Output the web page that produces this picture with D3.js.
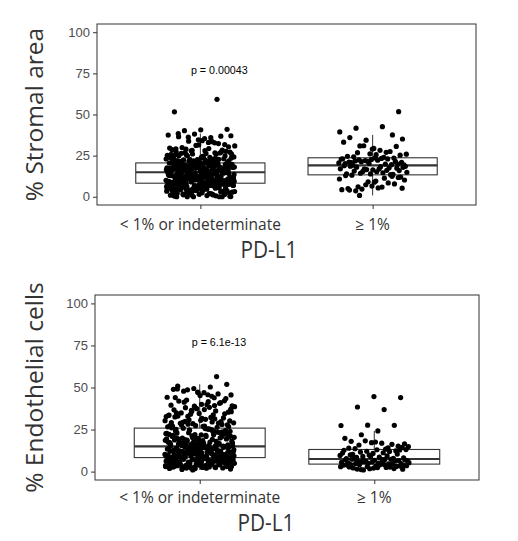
<!DOCTYPE html>
<html>
<head>
<meta charset="utf-8">
<script src="https://cdn.jsdelivr.net/npm/d3@7"></script>
<style>
  body { margin: 0; background: #fff; }
  svg { display: block; }
</style>
</head>
<body>
<div id="chart"></div>
<script>
// Categories and labels
const categories = ["< 1% or indeterminate", "≥ 1%"];
const yTicks = [0, 25, 50, 75, 100];
const yTitles = ["% Stromal area", "% Endothelial cells"];
const xTitle = "PD-L1";
const pLabels = ["p = 0.00043", "p = 6.1e-13"];

// % Stromal area, PD-L1 < 1% or indeterminate
const stromalLow = [
  0.0, 0.3, 5.6, 2.1, 7.4, 0.0, 4.8, 6.9, 1.2, 3.5,
  7.9, 6.2, 0.6, 4.1, 2.8, 5.3, 7.1, 0.0, 3.9, 6.6,
  1.7, 5.0, 7.7, 2.4, 4.5, 6.0, 0.9, 3.2, 7.5, 5.8,
  1.4, 6.4, 4.3, 8.0, 2.6, 0.1, 5.5, 7.2, 3.0, 6.8,
  4.9, 1.9, 7.8, 3.7, 5.1, 0.4, 6.1, 2.2, 7.0, 4.6,
  8.1, 3.3, 5.9, 1.0, 6.7, 2.9, 7.6, 4.0, 0.0, 5.4,
  3.6, 6.3, 2.0, 7.3, 4.4, 1.5, 6.5, 5.2, 3.1, 7.9,
  8.3, 12.6, 10.1, 14.2, 9.4, 13.1, 11.5, 8.8, 14.7, 10.9,
  12.0, 9.0, 13.6, 11.2, 8.5, 14.4, 10.4, 12.9, 9.7, 13.9,
  11.8, 8.6, 14.0, 10.7, 12.3, 9.2, 13.4, 11.0, 14.8, 9.9,
  12.7, 8.9, 13.0, 10.2, 14.5, 11.6, 9.5, 12.2, 13.7, 10.5,
  8.4, 14.1, 11.3, 12.8, 9.1, 13.3, 10.0, 14.6, 11.9, 9.8,
  12.4, 8.7, 13.8, 10.8, 11.4, 14.3, 9.3, 12.5, 10.3, 13.5,
  11.1, 9.6, 14.8, 12.1, 8.3, 13.2, 10.6, 11.7, 9.4, 12.9,
  15.0, 18.3, 16.7, 20.1, 17.2, 19.4, 15.8, 18.9, 16.1, 20.4,
  17.6, 15.3, 19.0, 16.4, 18.0, 20.2, 15.6, 17.9, 19.7, 16.9,
  18.5, 15.1, 17.3, 20.5, 16.2, 19.2, 15.9, 18.7, 17.0, 19.9,
  16.5, 18.1, 15.4, 20.0, 17.7, 19.5, 16.0, 18.4, 15.7, 19.1,
  17.4, 20.3, 16.3, 18.8, 15.2, 19.6, 17.1, 18.2, 16.8, 20.0,
  15.5, 19.3, 17.8, 16.6, 18.6, 15.0, 19.8, 17.5, 20.4, 16.1,
  18.0, 15.9, 19.0, 17.2, 20.2, 16.4, 18.9, 15.3, 19.5, 17.7,
  20.8, 23.4, 21.7, 26.1, 22.3, 25.0, 27.4, 21.2, 24.6, 22.9,
  26.8, 21.0, 23.9, 25.5, 22.1, 27.9, 24.2, 21.5, 26.4, 23.1,
  22.6, 25.8, 21.3, 24.9, 27.1, 23.6, 22.0, 26.6, 21.8, 25.2,
  24.0, 22.4, 27.6, 21.1, 23.3, 25.9, 22.7, 24.4, 26.3, 21.6,
  28.4, 31.2, 29.6, 33.5, 28.9, 30.4, 34.1, 29.1, 32.3, 28.2,
  30.9, 33.0, 29.9, 31.7, 34.6, 28.6, 32.8, 36.2, 37.1, 35.4,
  38.4, 36.8, 38.1, 37.5, 35.9, 40.2, 41.0, 40.7, 51.6, 59.2,
  2.5, 6.9, 0.7, 4.2, 7.6, 3.8, 5.7, 1.1, 6.4, 2.3,
  7.0, 4.7, 0.0, 5.0, 3.4, 7.8, 1.6, 6.1, 4.9, 2.7,
  10.5, 13.6, 9.1, 12.2, 14.5, 8.6, 11.4, 13.0, 9.8, 12.7,
  10.9, 14.2, 8.9, 11.8, 13.3, 9.5, 12.5, 10.1, 14.7, 11.0,
  17.5, 19.1, 15.7, 18.4, 20.3, 16.3, 17.9, 19.6, 15.2, 18.8,
  16.9, 20.1, 15.5, 17.1, 19.4, 16.6, 18.2, 20.5, 15.9, 17.3,
  21.4, 23.8, 22.2, 25.6, 21.9, 24.5, 27.2, 22.8, 26.0, 23.0,
  29.3, 21.7, 24.8, 31.5, 22.5, 26.7, 33.8, 23.5, 28.0, 36.5
];

// % Stromal area, PD-L1 >= 1%
const stromalHigh = [
  0.8, 5.2, 9.6, 4.1, 12.4, 7.3, 10.8, 5.9, 3.6, 11.7,
  6.5, 12.9, 8.4, 4.7, 10.2, 5.4, 13.1, 7.8, 9.1, 4.3,
  11.3, 6.1, 12.0, 8.9, 5.0,
  13.4, 16.8, 14.9, 18.3, 15.6, 17.4, 13.9, 18.9, 16.1, 14.3,
  17.9, 15.2, 18.6, 13.6, 16.5, 17.0, 14.6, 18.0, 15.9, 16.3,
  14.0, 17.6, 15.4, 18.5, 16.9,
  19.2, 21.5, 20.3, 23.1, 19.8, 22.4, 20.9, 23.6, 21.1, 19.5,
  22.0, 20.6, 23.3, 21.8, 19.9, 22.7, 20.1, 23.0, 21.3, 19.4,
  22.2, 20.7, 23.5, 21.6, 22.9,
  24.0, 26.8, 25.3, 29.4, 24.6, 27.5, 31.0, 25.9, 28.2, 24.3,
  30.6, 26.1, 33.2, 27.0, 30.9, 35.1, 25.6, 36.0, 37.6, 34.4,
  39.4, 42.6, 41.7, 51.7, 29.0
];

// % Endothelial cells, PD-L1 < 1% or indeterminate
const endoLow = [
  2.1, 5.7, 3.4, 7.6, 4.2, 1.0, 6.3, 2.8, 7.9, 5.1,
  3.9, 6.8, 2.4, 4.7, 8.1, 3.1, 5.5, 7.2, 1.8, 6.0,
  4.4, 2.6, 7.4, 5.8, 3.3, 6.6, 2.0, 4.9, 7.0, 3.7,
  5.3, 8.0, 2.9, 6.2, 4.0, 1.5, 7.7, 3.5, 5.9, 2.3,
  6.9, 4.5, 7.3, 3.0, 5.0, 2.7, 6.4, 4.8, 7.8, 3.8,
  5.6, 2.2, 6.7, 4.3, 7.1, 3.2, 5.2, 2.5, 6.1, 4.6,
  7.5, 3.6, 5.4, 1.3, 6.5, 4.1, 7.9, 2.8, 5.7, 3.0,
  8.4, 12.3, 10.6, 14.1, 9.2, 13.5, 11.0, 8.8, 14.7, 10.1,
  12.8, 9.5, 13.0, 11.6, 8.6, 14.4, 10.3, 12.1, 9.9, 13.8,
  11.3, 8.9, 14.0, 10.8, 12.6, 9.1, 13.3, 11.9, 14.9, 9.7,
  12.4, 8.5, 13.6, 10.0, 14.5, 11.4, 9.4, 12.0, 13.9, 10.5,
  8.7, 14.2, 11.1, 12.9, 9.0, 13.2, 10.2, 14.8, 11.7, 9.8,
  12.5, 8.4, 13.7, 10.9, 11.5, 14.3, 9.3, 12.2, 10.4, 13.4,
  11.2, 9.6, 14.6, 12.7, 8.6, 13.1, 10.7, 11.8, 9.2, 12.3,
  15.1, 19.3, 17.2, 23.8, 16.0, 21.4, 18.5, 25.1, 16.7, 20.2,
  22.6, 15.6, 19.9, 24.4, 17.8, 21.0, 15.3, 23.1, 18.1, 25.6,
  16.4, 20.7, 22.0, 17.5, 24.9, 19.0, 15.9, 21.8, 18.8, 23.4,
  16.2, 20.4, 25.3, 17.0, 22.3, 19.6, 15.4, 24.1, 18.3, 21.2,
  16.9, 23.0, 20.0, 15.8, 22.8, 17.6, 25.8, 19.4, 16.5, 21.6,
  18.0, 24.6, 15.2, 20.9, 17.3, 23.6, 16.1, 22.1, 19.1, 15.7,
  20.5, 17.9, 24.2, 16.6, 21.3, 18.6, 25.4, 15.5, 22.5, 19.7,
  26.0, 31.4, 28.2, 35.6, 27.1, 33.0, 29.7, 38.9, 26.6, 32.2,
  41.3, 27.8, 30.5, 36.7, 26.3, 34.1, 29.0, 39.8, 28.7, 31.9,
  37.4, 27.4, 33.8, 42.5, 30.1, 26.9, 35.0, 40.6, 28.5, 32.7,
  38.2, 29.3, 43.4, 34.6, 27.0, 36.1, 30.8, 39.1, 31.1, 41.9,
  28.0, 37.9, 33.4, 44.8, 29.9, 35.3, 40.0, 32.5, 46.2, 36.4,
  38.6, 45.7, 34.9, 42.1, 47.3, 39.5, 43.9, 48.6, 37.0, 46.9,
  49.1, 41.0, 49.4, 44.2, 50.3, 47.8, 51.9, 45.2, 48.9, 56.5,
  3.3, 6.6, 2.0, 5.0, 7.4, 4.4, 1.9, 6.0, 3.7, 7.8,
  2.6, 5.6, 4.1, 7.0, 3.0, 6.3, 2.4, 5.3, 7.6, 4.8,
  9.6, 12.9, 11.2, 14.3, 8.7, 10.5, 13.5, 9.9, 12.0, 14.7,
  11.5, 8.9, 13.0, 10.8, 12.6, 9.4, 14.0, 11.8, 10.1, 13.8,
  16.3, 21.9, 18.7, 24.0, 15.8, 20.1, 23.3, 17.4, 19.5, 25.2,
  16.8, 22.4, 18.2, 20.8, 15.4, 24.7, 17.0, 21.5, 19.2, 23.0,
  27.3, 33.6, 29.5, 38.0, 26.8, 31.6, 44.0, 28.9, 35.8, 30.3,
  41.6, 27.7, 34.4, 47.0, 29.1, 39.3, 32.9, 45.6, 36.9, 50.8
];

// % Endothelial cells, PD-L1 >= 1%
const endoHigh = [
  1.2, 3.6, 2.4, 4.1, 1.8, 3.0, 2.9, 4.3, 1.5, 3.3,
  2.1, 3.9, 2.7, 1.0, 3.5, 4.0, 2.2, 3.1, 1.7, 3.8,
  2.5, 4.2, 1.4, 3.4, 2.8,
  4.5, 6.1, 5.3, 7.2, 4.8, 6.6, 5.7, 7.0, 4.6, 5.9,
  6.9, 5.1, 7.4, 6.3, 4.9, 5.5, 7.1, 6.0, 4.7, 6.7,
  5.2, 7.3, 5.8, 6.4, 5.0,
  7.6, 10.4, 8.9, 12.7, 9.3, 11.6, 8.1, 13.0, 10.0, 7.9,
  12.1, 9.6, 11.2, 8.4, 12.9, 10.8, 7.7, 11.9, 9.0, 13.1,
  8.6, 10.2, 12.4, 9.8, 11.0,
  13.3, 15.8, 14.4, 17.6, 13.9, 16.2, 18.3, 14.9, 16.9, 13.6,
  15.1, 17.2, 19.8, 14.1, 21.9, 16.5, 24.2, 18.0, 27.5, 27.6,
  27.4, 36.9, 38.4, 44.0, 44.6
];

// Panel layout (pixels)
const panels = [
  { series: [stromalLow, stromalHigh], left: 97, right: 476, top: 24, bottom: 205,
    yTitle: yTitles[0], pLabel: pLabels[0], tickY: 229.5, titleY: 258, titleX: 269 },
  { series: [endoLow, endoHigh], left: 95, right: 479, top: 295, bottom: 480,
    yTitle: yTitles[1], pLabel: pLabels[1], tickY: 503, titleY: 531, titleX: 266 }
];

const svg = d3.select("#chart").append("svg")
  .attr("width", 518)
  .attr("height", 541);

// box statistics like ggplot (type-7 quantiles, 1.5 IQR whiskers)
function boxStats(values) {
  const s = values.slice().sort(d3.ascending);
  const q1 = d3.quantile(s, 0.25), med = d3.quantile(s, 0.5), q3 = d3.quantile(s, 0.75);
  const iqr = q3 - q1;
  const lo = d3.min(s.filter(v => v >= q1 - 1.5 * iqr));
  const hi = d3.max(s.filter(v => v <= q3 + 1.5 * iqr));
  return { q1, med, q3, lo, hi };
}

// deterministic spread for the jitter
function jitter(i) {
  const f = (i * 0.6180339887 + 0.31) % 1;
  return (f - 0.5) * 2 * 0.2;
}

panels.forEach(p => {
  const g = svg.append("g");

  const x = d3.scaleLinear().domain([0.4, 2.6]).range([p.left, p.right]);
  const y = d3.scaleLinear().domain([-5, 105]).range([p.bottom, p.top]);

  // boxes
  p.series.forEach((vals, k) => {
    const st = boxStats(vals);
    const cx = x(k + 1);
    const hw = x(k + 1 + 0.375) - cx;
    const box = g.append("g").attr("stroke", "#333");
    box.append("line")
      .attr("x1", cx).attr("x2", cx)
      .attr("y1", y(st.q3)).attr("y2", y(st.hi))
      .attr("stroke-width", 1);
    box.append("line")
      .attr("x1", cx).attr("x2", cx)
      .attr("y1", y(st.q1)).attr("y2", y(st.lo))
      .attr("stroke-width", 1);
    box.append("rect")
      .attr("x", cx - hw).attr("width", 2 * hw)
      .attr("y", y(st.q3)).attr("height", y(st.q1) - y(st.q3))
      .attr("fill", "#fff")
      .attr("stroke-width", 1.1);
    box.append("line")
      .attr("x1", cx - hw).attr("x2", cx + hw)
      .attr("y1", y(st.med)).attr("y2", y(st.med))
      .attr("stroke-width", 2.2);
  });

  // jittered points
  p.series.forEach((vals, k) => {
    g.append("g").selectAll("circle")
      .data(vals)
      .enter()
      .append("circle")
      .attr("cx", (d, i) => x(k + 1 + jitter(i)))
      .attr("cy", d => y(d))
      .attr("r", 2.6)
      .attr("fill", "black");
  });

  // panel border
  g.append("rect")
    .attr("x", p.left).attr("y", p.top)
    .attr("width", p.right - p.left).attr("height", p.bottom - p.top)
    .attr("fill", "none")
    .attr("stroke", "#333")
    .attr("stroke-width", 1);

  // y axis
  const yAxis = g.append("g")
    .attr("transform", `translate(${p.left},0)`)
    .call(d3.axisLeft(y).tickValues(yTicks).tickSize(4).tickPadding(3));
  yAxis.select(".domain").remove();
  yAxis.selectAll(".tick line").attr("stroke", "#333");
  yAxis.selectAll(".tick text")
    .attr("fill", "#4d4d4d")
    .style("font-family", "'Liberation Sans', Arial, sans-serif")
    .style("font-size", "13px");

  // x axis ticks
  const xAxis = g.append("g")
    .attr("transform", `translate(0,${p.bottom})`)
    .call(d3.axisBottom(x).tickValues([1, 2]).tickSize(4).tickFormat(() => ""));
  xAxis.select(".domain").remove();
  xAxis.selectAll(".tick line").attr("stroke", "#333");

  g.selectAll(".xlab")
    .data(categories)
    .enter()
    .append("text")
    .attr("x", (d, i) => x(i + 1))
    .attr("y", p.tickY)
    .attr("text-anchor", "middle")
    .attr("fill", "#333")
    .style("font-family", "'Open Sans', sans-serif")
    .style("font-size", "15.5px")
    .text(d => d);

  // axis titles
  g.append("text")
    .attr("x", p.titleX)
    .attr("y", p.titleY)
    .attr("text-anchor", "middle")
    .attr("fill", "#333")
    .attr("textLength", 57)
    .attr("lengthAdjust", "spacingAndGlyphs")
    .style("font-family", "'Open Sans', sans-serif")
    .style("font-size", "24px")
    .text(xTitle);

  g.append("text")
    .attr("transform", `translate(43,${(p.top + p.bottom) / 2}) rotate(-90)`)
    .attr("text-anchor", "middle")
    .attr("fill", "#333")
    .style("font-family", "'Open Sans', sans-serif")
    .style("font-size", "24.5px")
    .text(p.yTitle);

  // p value
  g.append("text")
    .attr("x", x(1.11))
    .attr("y", y(77))
    .attr("dy", "0.35em")
    .attr("text-anchor", "middle")
    .attr("fill", "black")
    .style("font-family", "'Liberation Sans', Arial, sans-serif")
    .style("font-size", "10.7px")
    .text(p.pLabel);
});
</script>
</body>
</html>
